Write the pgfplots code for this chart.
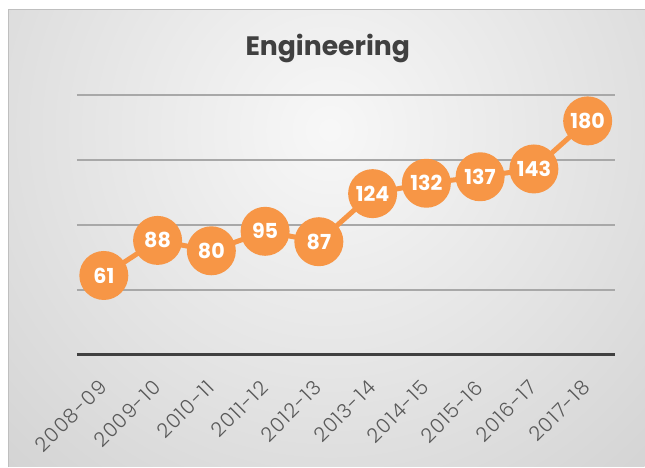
\documentclass[border=0pt]{standalone}
\usepackage{pgfplots}
\pgfplotsset{compat=1.18}
\usepackage{fontspec}
\setmainfont{Poppins}
\newfontfamily\poplight{Poppins Light}[LetterSpace=6]
\definecolor{orangeS}{HTML}{F79646}
\definecolor{titlec}{HTML}{404040}
\definecolor{tickc}{HTML}{595959}
\definecolor{axisc}{HTML}{404040}
\pgfplotstableread{
x y
0 61
1 88
2 80
3 95
4 87
5 124
6 132
7 137
8 143
9 180
}\engdata
\begin{document}
\begin{tikzpicture}
\begin{axis}[
  set layers,
  scale only axis, width=403.5pt, height=195pt,
  xmin=-0.5, xmax=9.5, ymin=0, ymax=200,
  axis line style={draw=none},
  xtick={0,...,9},
  xticklabels={2008-09,2009-10,2010-11,2011-12,2012-13,2013-14,2014-15,2015-16,2016-17,2017-18},
  xticklabel style={rotate=45, anchor=east, font=\poplight\fontsize{15}{17}\selectfont, text=tickc, inner sep=0pt, yshift=-15.1pt, xshift=-15.9pt},
  major tick length=0pt,
  ytick={50,100,150},
  yticklabels={},
  ymajorgrids,
  major grid style={color=white!66!black, line width=1.5pt},
  extra y ticks={200},
  extra y tick labels={},
  extra y tick style={grid style={color=white!86!black, line width=1.5pt}},
  clip=false,
]
\begin{pgfonlayer}{axis background}
\fill[white] (rel axis cs:-0.14312,-0.43077) rectangle (rel axis cs:1.05576,1.36538);
\begin{scope}
\clip (rel axis cs:-0.12639,-0.43077) rectangle (rel axis cs:1.05576,1.32692);
\shade[inner color=white!97!black, outer color=white!72!black]
  ([shift={(-630pt,-630pt)}]rel axis cs:0.4703,0.8654) rectangle ([shift={(630pt,630pt)}]rel axis cs:0.4703,0.8654);
\end{scope}
\draw[color=white!75!black, line width=0.75pt] (rel axis cs:-0.12639,-0.43077) -- (rel axis cs:-0.12639,1.32692) -- (rel axis cs:1.05576,1.32692);
\end{pgfonlayer}
\node[font=\fontsize{20}{24}\selectfont\bfseries, text=titlec, anchor=base] at (rel axis cs:0.46654,1.15) {Engineering};
\addplot[color=orangeS, line width=3.75pt, mark=*, mark size=16.5pt,
  mark options={fill=orangeS, draw=none},
  nodes near coords,
  nodes near coords style={anchor=center, text=white, font=\fontsize{15.5}{18}\selectfont\bfseries},
  point meta=explicit symbolic]
  table[x=x, y=y, meta=y] {\engdata};
\draw[color=axisc, line width=2.5pt] (axis cs:-0.5,0) -- (axis cs:9.5,0);
\end{axis}
\end{tikzpicture}
\end{document}
